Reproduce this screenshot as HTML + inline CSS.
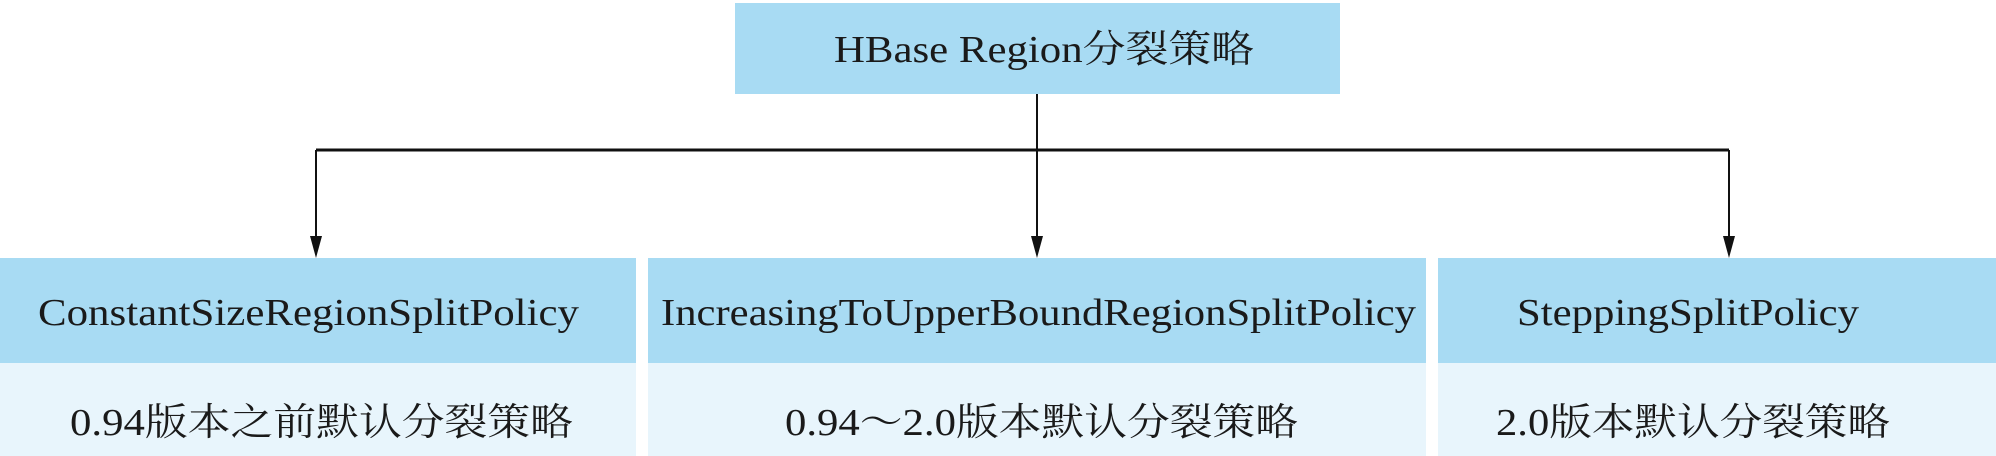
<!DOCTYPE html>
<html><head><meta charset="utf-8"><style>html,body{margin:0;padding:0;background:#fff}svg{display:block}</style></head>
<body>
<svg width="1996" height="456" viewBox="0 0 1996 456" xmlns="http://www.w3.org/2000/svg" font-family="'Liberation Serif','Noto Serif CJK SC',serif" fill="#1a1a1a">
<rect x="735" y="3" width="605" height="91" fill="#a8dbf3"/>
<rect x="0" y="258" width="636" height="105" fill="#a8dbf3"/>
<rect x="648" y="258" width="778" height="105" fill="#a8dbf3"/>
<rect x="1438" y="258" width="558" height="105" fill="#a8dbf3"/>
<rect x="0" y="363" width="636" height="93" fill="#e8f5fc"/>
<rect x="648" y="363" width="778" height="93" fill="#e8f5fc"/>
<rect x="1438" y="363" width="558" height="93" fill="#e8f5fc"/>
<g stroke="#111" stroke-width="2" fill="none">
<line x1="1037" y1="94" x2="1037" y2="244"/>
<line x1="316" y1="150" x2="1729" y2="150" stroke-width="3"/>
<line x1="316" y1="150" x2="316" y2="244"/>
<line x1="1729" y1="150" x2="1729" y2="244"/>
</g>
<g fill="#111">
<polygon points="310,236 322,236 316,258"/>
<polygon points="1031,236 1043,236 1037,258"/>
<polygon points="1723,236 1735,236 1729,258"/>
</g>
<g font-size="38">
<text x="834" y="62" textLength="420" lengthAdjust="spacingAndGlyphs">HBase Region分裂策略</text>
<text x="38" y="325" textLength="541" lengthAdjust="spacingAndGlyphs">ConstantSizeRegionSplitPolicy</text>
<text x="661" y="325" textLength="755" lengthAdjust="spacingAndGlyphs">IncreasingToUpperBoundRegionSplitPolicy</text>
<text x="1517" y="325" textLength="342" lengthAdjust="spacingAndGlyphs">SteppingSplitPolicy</text>
<text x="70" y="435" textLength="503" lengthAdjust="spacingAndGlyphs">0.94版本之前默认分裂策略</text>
<text x="785" y="435" textLength="513" lengthAdjust="spacingAndGlyphs">0.94～2.0版本默认分裂策略</text>
<text x="1496" y="435" textLength="394" lengthAdjust="spacingAndGlyphs">2.0版本默认分裂策略</text>
</g>
</svg>
</body></html>
